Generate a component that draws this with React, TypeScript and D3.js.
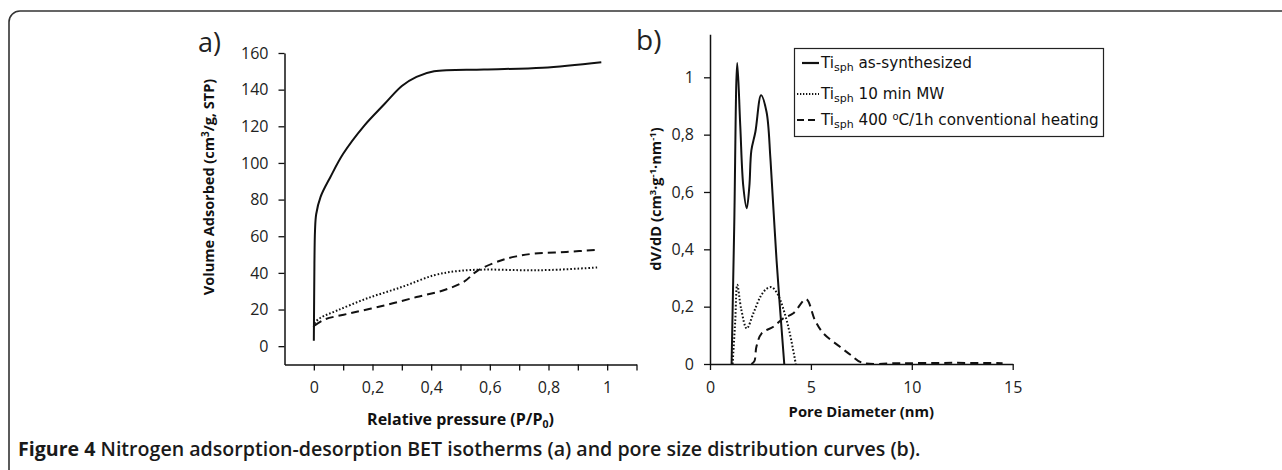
import React, { useEffect, useRef } from 'react';
import * as d3 from 'd3';

// a) N2 isotherms: relative pressure vs adsorbed volume
const pressureSynth = [0, 0.001, 0.002, 0.004, 0.008, 0.023, 0.057, 0.1, 0.17, 0.24, 0.3, 0.35, 0.41, 0.58, 0.78, 0.98];
const volumeSynth = [3, 25, 45, 63, 72, 81.5, 92.5, 105, 120, 132, 142, 147, 150, 151, 152, 155];
const pressureMW = [0, 0.005, 0.023, 0.08, 0.18, 0.3, 0.41, 0.49, 0.58, 0.7, 0.81, 0.97];
const volumeMW = [10.4, 13, 15.5, 19.5, 26, 32.3, 38.7, 41, 41.8, 41.5, 41.6, 43];
const pressureHeat = [0.003, 0.034, 0.125, 0.24, 0.35, 0.44, 0.51, 0.56, 0.64, 0.69, 0.75, 0.86, 0.97];
const volumeHeat = [11.3, 14.4, 18, 22.2, 26.8, 30.4, 35, 41.4, 46.9, 49, 50.5, 51.4, 52.7];

// b) pore size distribution
const diamSynth = [1.07, 1.2, 1.35, 1.5, 1.65, 1.82, 1.95, 2.05, 2.25, 2.53, 2.8, 3.0, 3.3, 3.68];
const dvSynth = [0, 0.48, 1.05, 0.83, 0.62, 0.543, 0.62, 0.745, 0.81, 0.937, 0.88, 0.71, 0.36, 0];
const diamMW = [1.12, 1.25, 1.35, 1.55, 1.82, 2.15, 2.5, 2.8, 3.06, 3.3, 3.5, 3.88, 4.25];
const dvMW = [0, 0.15, 0.276, 0.19, 0.124, 0.177, 0.235, 0.262, 0.268, 0.25, 0.22, 0.13, 0];
const diamHeat = [2.05, 2.2, 2.3, 2.56, 3.14, 3.63, 4.13, 4.76, 5.2, 5.62, 6.44, 7.0, 7.52, 9.5, 12, 14.5];
const dvHeat = [0, 0.01, 0.06, 0.107, 0.13, 0.159, 0.177, 0.226, 0.153, 0.107, 0.06, 0.03, 0.005, 0.003, 0.004, 0.003];

const pressureTicks = d3.range(0, 12).map(i => i / 10);
const volumeTicks = [0, 20, 40, 60, 80, 100, 120, 140, 160];
const diameterTicks = [0, 5, 10, 15];
const dvTicks = [0, 0.2, 0.4, 0.6, 0.8, 1];

const legendNames = ['as-synthesized', '10 min MW', '400 '];

const comma = (v: number) => String(+v.toFixed(2)).replace('.', ',');

const App: React.FC = () => {
    const svgRef = useRef<SVGSVGElement>(null);

    const width = 1282;
    const height = 470;

    useEffect(() => {
        if (!svgRef.current) return;
        const svg = d3.select(svgRef.current);
        svg.selectAll('*').remove();

        const tickFont = '"Open Sans", sans-serif';
        const dash = { solid: null, dotted: '1.6,2', dashed: '8,5' } as Record<string, string | null>;

        // frame
        svg.append('rect')
            .attr('x', 9).attr('y', 11)
            .attr('width', 1320).attr('height', 520)
            .attr('rx', 11)
            .attr('fill', 'none')
            .attr('stroke', '#333')
            .attr('stroke-width', 1.6);

        const styleAxis = (g: d3.Selection<SVGGElement, unknown, null, undefined>) => {
            g.select('.domain').attr('stroke', '#111').attr('stroke-width', 1.5);
            g.selectAll('.tick line').attr('stroke', '#111').attr('stroke-width', 1.3);
            g.selectAll('.tick text')
                .attr('font-family', tickFont)
                .attr('font-size', 16)
                .attr('fill', '#222');
        };

        // ---------- a) ----------
        const xA = d3.scaleLinear().domain([-0.1, 1.1]).range([284.5, 636.5]);
        const yA = d3.scaleLinear().domain([-10, 160]).range([364.5, 53]);

        const axA = svg.append('g')
            .attr('transform', `translate(0,${yA(-10)})`)
            .call(d3.axisBottom(xA)
                .tickValues(pressureTicks)
                .tickSize(6)
                .tickSizeOuter(0)
                .tickPadding(11)
                .tickFormat(d => (Math.round(+d * 10) % 2 === 0 ? comma(+d) : '')));
        styleAxis(axA);

        const ayA = svg.append('g')
            .attr('transform', `translate(${xA(-0.1)},0)`)
            .call(d3.axisLeft(yA)
                .tickValues(volumeTicks)
                .tickSize(6)
                .tickSizeOuter(0)
                .tickPadding(10)
                .tickFormat(d => String(d)));
        styleAxis(ayA);

        const lineA = (xs: number[], ys: number[], style: string) => {
            const line = d3.line<number>()
                .x((d, i) => xA(xs[i]))
                .y(d => yA(d))
                .curve(d3.curveCatmullRom.alpha(0.5));
            svg.append('path')
                .datum(ys)
                .attr('fill', 'none')
                .attr('stroke', '#111')
                .attr('stroke-width', 2)
                .attr('stroke-dasharray', dash[style])
                .attr('d', line);
        };
        lineA(pressureSynth, volumeSynth, 'solid');
        lineA(pressureMW, volumeMW, 'dotted');
        lineA(pressureHeat, volumeHeat, 'dashed');

        svg.append('text')
            .attr('x', 198).attr('y', 52)
            .attr('font-family', tickFont).attr('font-size', 27)
            .attr('fill', '#222')
            .text('a)');

        const titleA = svg.append('text')
            .attr('x', (xA(-0.1) + xA(1.1)) / 2).attr('y', 425)
            .attr('text-anchor', 'middle')
            .attr('font-family', tickFont).attr('font-size', 16).attr('font-weight', 700)
            .attr('fill', '#111');
        titleA.append('tspan').text('Relative pressure (P/P');
        titleA.append('tspan').attr('font-size', 10.5).attr('dy', 3).text('0');
        titleA.append('tspan').attr('dy', -3).text(')');

        const yTitleA = svg.append('text')
            .attr('transform', 'translate(214,187) rotate(-90)')
            .attr('text-anchor', 'middle')
            .attr('font-family', tickFont).attr('font-size', 14.5).attr('font-weight', 700)
            .attr('fill', '#111');
        yTitleA.append('tspan').text('Volume Adsorbed (cm');
        yTitleA.append('tspan').attr('font-size', 10).attr('dy', -5).text('3');
        yTitleA.append('tspan').attr('dy', 5).text('/g, STP)');

        // ---------- b) ----------
        const xB = d3.scaleLinear().domain([0, 15]).range([710, 1012.7]);
        const yB = d3.scaleLinear().domain([0, 1.15]).range([364, 34.3]);

        const axB = svg.append('g')
            .attr('transform', `translate(0,${yB(0)})`)
            .call(d3.axisBottom(xB)
                .tickValues(diameterTicks)
                .tickSize(6)
                .tickSizeOuter(0)
                .tickPadding(12)
                .tickFormat(d => String(d)));
        styleAxis(axB);

        const ayB = svg.append('g')
            .attr('transform', `translate(${xB(0)},0)`)
            .call(d3.axisLeft(yB)
                .tickValues(dvTicks)
                .tickSize(6)
                .tickSizeOuter(0)
                .tickPadding(10)
                .tickFormat(d => comma(+d)));
        styleAxis(ayB);

        const lineB = (xs: number[], ys: number[], style: string) => {
            const line = d3.line<number>()
                .x((d, i) => xB(xs[i]))
                .y(d => yB(d))
                .curve(d3.curveCatmullRom.alpha(0.5));
            svg.append('path')
                .datum(ys)
                .attr('fill', 'none')
                .attr('stroke', '#111')
                .attr('stroke-width', 2)
                .attr('stroke-dasharray', dash[style])
                .attr('d', line);
        };
        lineB(diamSynth, dvSynth, 'solid');
        lineB(diamMW, dvMW, 'dotted');
        lineB(diamHeat, dvHeat, 'dashed');

        svg.append('text')
            .attr('x', 636).attr('y', 50)
            .attr('font-family', tickFont).attr('font-size', 28)
            .attr('fill', '#222')
            .text('b)');

        svg.append('text')
            .attr('x', (xB(0) + xB(15)) / 2).attr('y', 417)
            .attr('text-anchor', 'middle')
            .attr('font-family', tickFont).attr('font-size', 14.8).attr('font-weight', 700)
            .attr('fill', '#111')
            .text('Pore Diameter (nm)');

        const yTitleB = svg.append('text')
            .attr('transform', 'translate(661,199) rotate(-90)')
            .attr('text-anchor', 'middle')
            .attr('font-family', tickFont).attr('font-size', 14.6).attr('font-weight', 700)
            .attr('fill', '#111');
        yTitleB.append('tspan').text('dV/dD (cm');
        yTitleB.append('tspan').attr('font-size', 9.5).attr('dy', -5).text('3');
        yTitleB.append('tspan').attr('dy', 5).text('·g');
        yTitleB.append('tspan').attr('font-size', 9.5).attr('dy', -5).text('-1');
        yTitleB.append('tspan').attr('dy', 5).text('·nm');
        yTitleB.append('tspan').attr('font-size', 9.5).attr('dy', -5).text('-1');
        yTitleB.append('tspan').attr('dy', 5).text(')');

        // legend
        const legend = svg.append('g');
        legend.append('rect')
            .attr('x', 794.5).attr('y', 48.5)
            .attr('width', 309).attr('height', 88)
            .attr('fill', '#fff')
            .attr('stroke', '#222')
            .attr('stroke-width', 1.2);
        const rowsY = [63, 94, 120];
        const styles = ['solid', 'dotted', 'dashed'];
        styles.forEach((s, i) => {
            legend.append('line')
                .attr('x1', s === 'solid' ? 802 : 797).attr('x2', 819)
                .attr('y1', rowsY[i]).attr('y2', rowsY[i])
                .attr('stroke', '#111')
                .attr('stroke-width', s === 'solid' ? 2.2 : 2)
                .attr('stroke-dasharray', s === 'dotted' ? '1.3,1.7' : s === 'dashed' ? '7,4' : null);
            const t = legend.append('text')
                .attr('x', 821).attr('y', rowsY[i] + 5)
                .attr('font-family', '"DejaVu Sans", sans-serif')
                .attr('font-size', 15.2)
                .attr('fill', '#111');
            t.append('tspan').text('Ti');
            t.append('tspan').attr('font-size', 11).attr('dy', 3).text('sph');
            t.append('tspan').attr('dy', -3).text(' ' + legendNames[i]);
            if (i === 2) {
                t.append('tspan').attr('font-size', 10).attr('dy', -5).text('o');
                t.append('tspan').attr('dy', 5).text('C/1h conventional heating');
            }
        });

        // caption
        const cap = svg.append('text')
            .attr('x', 18).attr('y', 456)
            .attr('font-family', tickFont).attr('font-size', 19.6)
            .attr('fill', '#1a1a1a');
        cap.append('tspan').attr('font-weight', 700).text('Figure 4');
        cap.append('tspan').attr('font-weight', 600).text(' Nitrogen adsorption-desorption BET isotherms (a) and pore size distribution curves (b).');
    }, []);

    return (
        <svg ref={svgRef} width={width} height={height}
            style={{ position: 'absolute', left: 0, top: 0, background: '#fff' }}></svg>
    );
};

export default App;
